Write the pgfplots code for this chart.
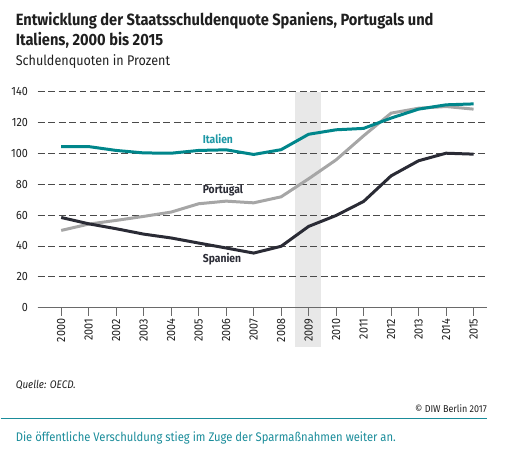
\documentclass[border=0pt]{standalone}
\usepackage{fontspec}
\setmainfont{Fira Sans}[FakeStretch=0.9]
\usepackage{pgfplots}
\pgfplotsset{compat=1.18}
\definecolor{titlec}{HTML}{1F1F1F}
\definecolor{itacol}{HTML}{00868B}
\definecolor{italab}{HTML}{1E98A6}
\definecolor{porcol}{HTML}{A6A6A6}
\definecolor{spacol}{HTML}{2A2B35}
\definecolor{gridc}{HTML}{4A4A4A}
\definecolor{axisc}{HTML}{6A6A6A}
\definecolor{bandc}{HTML}{E8E8E8}
\definecolor{capc}{HTML}{1A8C9A}
\begin{document}
\begin{tikzpicture}[x=1bp,y=1bp]
\path (0,0) rectangle (505,467);
\node[anchor=base west, inner sep=0, text=titlec, font=\fontsize{16.3bp}{19bp}\selectfont\bfseries] at (15,441) {Entwicklung der Staatsschuldenquote Spaniens, Portugals und};
\node[anchor=base west, inner sep=0, text=titlec, font=\fontsize{16.3bp}{19bp}\selectfont\bfseries] at (15,421.3) {Italiens, 2000 bis 2015};
\node[anchor=base west, inner sep=0, text=titlec, font=\fontsize{14bp}{15bp}\selectfont] at (15,401.3) {Schuldenquoten in Prozent};
\begin{axis}[
  set layers, clip=false,
  scale only axis, width=450bp, height=216bp,
  at={(37bp,159bp)}, anchor=south west,
  xmin=1999.14, xmax=2015.49, ymin=0, ymax=140,
  separate axis lines,
  axis x line*=bottom, axis y line*=left,
  y axis line style={draw=none},
  x axis line style={draw=axisc, line width=1bp, -},
  ytick={0,20,...,140},
  xtick={2000,2001,...,2015},
  ytick style={draw=none},
  xtick style={draw=axisc, line width=0.9bp},
  tick align=outside,
  major tick length=8bp,
  ymajorgrids,
  major grid style={draw=gridc, line width=0.9bp, dash pattern=on 7bp off 3.5bp},
  /pgf/number format/assume math mode=true,
  /pgf/number format/1000 sep={},
  tick label style={font=\fontsize{12bp}{13bp}\selectfont, text=titlec},
  y tick label style={inner sep=1.5bp},
  x tick label style={rotate=90, anchor=east, inner sep=3bp},
]
\addplot[fill=bandc, draw=none, forget plot, on layer=axis background] coordinates {
(2008.51,-25.7)(2009.46,-25.7)(2009.46,140)(2008.51,140)};
\addplot[color=porcol, line width=3bp] coordinates {
(2000,50.1)(2001,54.2)(2002,56.6)(2003,59.2)(2004,62.0)(2005,67.4)(2006,69.1)(2007,68.0)
(2008,71.9)(2009,83.6)(2010,95.9)(2011,111.5)(2012,126.2)(2013,129.4)(2014,130.5)(2015,128.8)};
\addplot[color=spacol, line width=3bp] coordinates {
(2000,58.5)(2001,54.4)(2002,51.2)(2003,47.7)(2004,45.2)(2005,41.9)(2006,38.7)(2007,35.4)
(2008,39.8)(2009,52.7)(2010,59.8)(2011,68.9)(2012,85.5)(2013,95.3)(2014,100.2)(2015,99.6)};
\addplot[color=itacol, line width=3bp] coordinates {
(2000,104.5)(2001,104.5)(2002,102.0)(2003,100.4)(2004,100.2)(2005,102.0)(2006,102.4)(2007,99.4)
(2008,102.5)(2009,112.5)(2010,115.4)(2011,116.3)(2012,123.0)(2013,128.8)(2014,131.6)(2015,132.2)};
\node[text=italab, font=\fontsize{11.5bp}{13bp}\selectfont\bfseries] at (axis cs:2005.7,109.3) {Italien};
\node[text=spacol, font=\fontsize{11.5bp}{13bp}\selectfont\bfseries] at (axis cs:2005.88,75.8) {Portugal};
\node[text=spacol, font=\fontsize{11.5bp}{13bp}\selectfont\bfseries] at (axis cs:2005.85,31.5) {Spanien};
\end{axis}
\node[anchor=base west, inner sep=0, text=titlec, font=\fontsize{11bp}{12bp}\selectfont\itshape] at (15,77.7) {Quelle: OECD.};
\node[anchor=base east, inner sep=0, text=titlec, font=\fontsize{10bp}{12bp}\selectfont] at (487,53.7) {© DIW Berlin 2017};
\draw[capc, line width=1.2bp] (0,48) -- (487,48);
\node[anchor=base west, inner sep=0, text=capc, font=\fontsize{12.5bp}{15bp}\selectfont] at (15,24.7) {Die öffentliche Verschuldung stieg im Zuge der Sparmaßnahmen weiter an.};
\end{tikzpicture}
\end{document}
